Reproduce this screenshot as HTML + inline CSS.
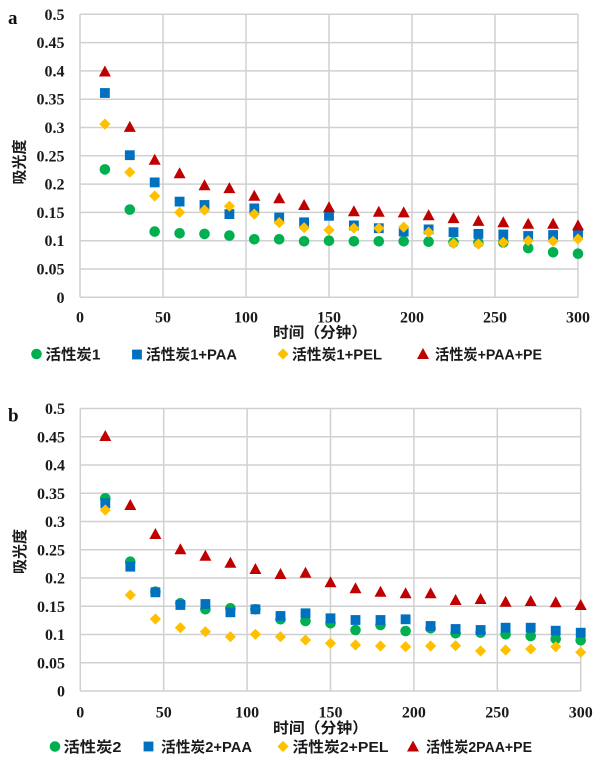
<!DOCTYPE html>
<html><head><meta charset="utf-8"><style>
html,body{margin:0;padding:0;background:#fff;}
svg{display:block;}
.tk{font-family:"Liberation Serif",serif;font-weight:bold;font-size:16px;fill:#1a1a1a;}
.lb{font-family:"Liberation Serif",serif;font-weight:bold;font-size:19px;fill:#111;}
.cj{font-family:"Liberation Sans","Noto Sans CJK SC",sans-serif;font-weight:bold;font-size:15px;fill:#1a1a1a;}
</style></head><body>
<svg width="600" height="766" viewBox="0 0 600 766" xmlns="http://www.w3.org/2000/svg">
<defs>
<circle id="c" r="5.3" fill="#00B050"/>
<rect id="s" x="-4.9" y="-4.9" width="9.8" height="9.8" fill="#0070C0"/>
<polygon id="d" points="0,-5.6 5.6,0 0,5.6 -5.6,0" fill="#FFC000"/>
<polygon id="t" points="0,-6 6,5 -6,5" fill="#C00000"/>
</defs>
<rect width="600" height="766" fill="#fff"/>

<!-- ===== Chart a ===== -->
<text class="lb" x="8" y="24">a</text>
<g stroke="#d0d0d0" stroke-width="1.5" fill="none">
<line x1="80" y1="14.3" x2="80" y2="297.3"/><line x1="163" y1="14.3" x2="163" y2="297.3"/>
<line x1="246" y1="14.3" x2="246" y2="297.3"/><line x1="329" y1="14.3" x2="329" y2="297.3"/>
<line x1="412" y1="14.3" x2="412" y2="297.3"/><line x1="495" y1="14.3" x2="495" y2="297.3"/>
<line x1="578" y1="14.3" x2="578" y2="297.3"/>
<line x1="80" y1="297.3" x2="578" y2="297.3"/><line x1="80" y1="269" x2="578" y2="269"/>
<line x1="80" y1="240.7" x2="578" y2="240.7"/><line x1="80" y1="212.4" x2="578" y2="212.4"/>
<line x1="80" y1="184.1" x2="578" y2="184.1"/><line x1="80" y1="155.8" x2="578" y2="155.8"/>
<line x1="80" y1="127.5" x2="578" y2="127.5"/><line x1="80" y1="99.2" x2="578" y2="99.2"/>
<line x1="80" y1="70.9" x2="578" y2="70.9"/><line x1="80" y1="42.6" x2="578" y2="42.6"/>
<line x1="80" y1="14.3" x2="578" y2="14.3"/>
</g>
<g class="tk" text-anchor="end">
<text x="64.5" y="302.8">0</text><text x="64.5" y="274.5">0.05</text><text x="64.5" y="246.2">0.1</text>
<text x="64.5" y="217.9">0.15</text><text x="64.5" y="189.6">0.2</text><text x="64.5" y="161.3">0.25</text>
<text x="64.5" y="133">0.3</text><text x="64.5" y="104.7">0.35</text><text x="64.5" y="76.4">0.4</text>
<text x="64.5" y="48.1">0.45</text><text x="64.5" y="19.8">0.5</text>
</g>
<g class="tk" text-anchor="middle">
<text x="80" y="322.7">0</text><text x="163" y="322.7">50</text><text x="246" y="322.7">100</text>
<text x="329" y="322.7">150</text><text x="412" y="322.7">200</text><text x="495" y="322.7">250</text>
<text x="578" y="322.7">300</text>
</g>
<text class="cj" x="273" y="337.5" textLength="94" lengthAdjust="spacingAndGlyphs">时间（分钟）</text>
<text class="cj" transform="translate(24.5,162) rotate(-90)" text-anchor="middle">吸光度</text>

<g>
<use href="#c" x="104.9" y="169.4"/><use href="#c" x="129.8" y="209.6"/><use href="#c" x="154.7" y="231.6"/><use href="#c" x="179.6" y="233.3"/><use href="#c" x="204.5" y="233.9"/><use href="#c" x="229.4" y="235.6"/><use href="#c" x="254.3" y="239.3"/><use href="#c" x="279.2" y="239.3"/><use href="#c" x="304.1" y="241.3"/><use href="#c" x="329" y="240.7"/><use href="#c" x="353.9" y="241.3"/><use href="#c" x="378.8" y="241.3"/><use href="#c" x="403.7" y="241.3"/><use href="#c" x="428.6" y="241.7"/><use href="#c" x="453.5" y="242.4"/><use href="#c" x="478.4" y="242.7"/><use href="#c" x="503.3" y="242.4"/><use href="#c" x="528.2" y="248.1"/><use href="#c" x="553.1" y="252.3"/><use href="#c" x="578" y="253.7"/>
</g>
<g>
<use href="#s" x="104.9" y="93"/><use href="#s" x="129.8" y="155.2"/><use href="#s" x="154.7" y="182.4"/><use href="#s" x="179.6" y="201.6"/><use href="#s" x="204.5" y="205"/><use href="#s" x="229.4" y="214.1"/><use href="#s" x="254.3" y="208.4"/><use href="#s" x="279.2" y="217.5"/><use href="#s" x="304.1" y="222.3"/><use href="#s" x="329" y="215.8"/><use href="#s" x="353.9" y="225.4"/><use href="#s" x="378.8" y="228.2"/><use href="#s" x="403.7" y="231.6"/><use href="#s" x="428.6" y="229.4"/><use href="#s" x="453.5" y="232.2"/><use href="#s" x="478.4" y="233.9"/><use href="#s" x="503.3" y="234.5"/><use href="#s" x="528.2" y="236"/><use href="#s" x="553.1" y="235"/><use href="#s" x="578" y="233.3"/>
</g>
<g>
<use href="#d" x="104.9" y="124.1"/><use href="#d" x="129.8" y="172.2"/><use href="#d" x="154.7" y="196"/><use href="#d" x="179.6" y="212.4"/><use href="#d" x="204.5" y="210.1"/><use href="#d" x="229.4" y="206.2"/><use href="#d" x="254.3" y="214.1"/><use href="#d" x="279.2" y="222.6"/><use href="#d" x="304.1" y="227.7"/><use href="#d" x="329" y="230"/><use href="#d" x="353.9" y="228.2"/><use href="#d" x="378.8" y="228.2"/><use href="#d" x="403.7" y="227.1"/><use href="#d" x="428.6" y="232.2"/><use href="#d" x="453.5" y="243.5"/><use href="#d" x="478.4" y="244.1"/><use href="#d" x="503.3" y="242.4"/><use href="#d" x="528.2" y="240.7"/><use href="#d" x="553.1" y="241.3"/><use href="#d" x="578" y="239"/>
</g>
<g>
<use href="#t" x="104.9" y="71.5"/><use href="#t" x="129.8" y="126.9"/><use href="#t" x="154.7" y="159.8"/><use href="#t" x="179.6" y="173.3"/><use href="#t" x="204.5" y="185.2"/><use href="#t" x="229.4" y="188.1"/><use href="#t" x="254.3" y="195.7"/><use href="#t" x="279.2" y="198.2"/><use href="#t" x="304.1" y="205"/><use href="#t" x="329" y="207.3"/><use href="#t" x="353.9" y="211.3"/><use href="#t" x="378.8" y="211.8"/><use href="#t" x="403.7" y="212.4"/><use href="#t" x="428.6" y="215.2"/><use href="#t" x="453.5" y="218.1"/><use href="#t" x="478.4" y="220.9"/><use href="#t" x="503.3" y="222.3"/><use href="#t" x="528.2" y="223.7"/><use href="#t" x="553.1" y="223.7"/><use href="#t" x="578" y="225.4"/>
</g>

<!-- legend a -->
<use href="#c" x="36.5" y="354"/>
<text class="cj" x="45.5" y="359.5" textLength="55" lengthAdjust="spacingAndGlyphs">活性炭1</text>
<use href="#s" x="137" y="354.5"/>
<text class="cj" x="146" y="359.5" textLength="91" lengthAdjust="spacingAndGlyphs">活性炭1+PAA</text>
<use href="#d" x="283" y="354"/>
<text class="cj" x="292" y="359.5" textLength="90" lengthAdjust="spacingAndGlyphs">活性炭1+PEL</text>
<use href="#t" x="423" y="354"/>
<text class="cj" x="435" y="359.5" textLength="107" lengthAdjust="spacingAndGlyphs">活性炭+PAA+PE</text>

<!-- ===== Chart b ===== -->
<text class="lb" x="8" y="421.7">b</text>
<g stroke="#d0d0d0" stroke-width="1.5" fill="none">
<line x1="80.3" y1="408.5" x2="80.3" y2="691"/><line x1="163.7" y1="408.5" x2="163.7" y2="691"/>
<line x1="247.1" y1="408.5" x2="247.1" y2="691"/><line x1="330.5" y1="408.5" x2="330.5" y2="691"/>
<line x1="413.9" y1="408.5" x2="413.9" y2="691"/><line x1="497.3" y1="408.5" x2="497.3" y2="691"/>
<line x1="580.7" y1="408.5" x2="580.7" y2="691"/>
<line x1="80.3" y1="691" x2="580.7" y2="691"/><line x1="80.3" y1="662.75" x2="580.7" y2="662.75"/>
<line x1="80.3" y1="634.5" x2="580.7" y2="634.5"/><line x1="80.3" y1="606.25" x2="580.7" y2="606.25"/>
<line x1="80.3" y1="578" x2="580.7" y2="578"/><line x1="80.3" y1="549.75" x2="580.7" y2="549.75"/>
<line x1="80.3" y1="521.5" x2="580.7" y2="521.5"/><line x1="80.3" y1="493.25" x2="580.7" y2="493.25"/>
<line x1="80.3" y1="465" x2="580.7" y2="465"/><line x1="80.3" y1="436.75" x2="580.7" y2="436.75"/>
<line x1="80.3" y1="408.5" x2="580.7" y2="408.5"/>
</g>
<g class="tk" text-anchor="end">
<text x="65" y="696.5">0</text><text x="65" y="668.25">0.05</text><text x="65" y="640">0.1</text>
<text x="65" y="611.75">0.15</text><text x="65" y="583.5">0.2</text><text x="65" y="555.25">0.25</text>
<text x="65" y="527">0.3</text><text x="65" y="498.75">0.35</text><text x="65" y="470.5">0.4</text>
<text x="65" y="442.25">0.45</text><text x="65" y="414">0.5</text>
</g>
<g class="tk" text-anchor="middle">
<text x="80.3" y="717.5">0</text><text x="163.7" y="717.5">50</text><text x="247.1" y="717.5">100</text>
<text x="330.5" y="717.5">150</text><text x="413.9" y="717.5">200</text><text x="497.3" y="717.5">250</text>
<text x="580.7" y="717.5">300</text>
</g>
<text class="cj" x="273" y="733" textLength="95" lengthAdjust="spacingAndGlyphs">时间（分钟）</text>
<text class="cj" transform="translate(25,551.5) rotate(-90)" text-anchor="middle">吸光度</text>

<g>
<use href="#c" x="105.3" y="498.3"/><use href="#c" x="130.3" y="561.7"/><use href="#c" x="155.4" y="591.7"/><use href="#c" x="180.4" y="603.3"/><use href="#c" x="205.4" y="609.3"/><use href="#c" x="230.4" y="608.3"/><use href="#c" x="255.4" y="609.3"/><use href="#c" x="280.5" y="619.3"/><use href="#c" x="305.5" y="621"/><use href="#c" x="330.5" y="623.3"/><use href="#c" x="355.5" y="630"/><use href="#c" x="380.5" y="625"/><use href="#c" x="405.6" y="631"/><use href="#c" x="430.6" y="628.3"/><use href="#c" x="455.6" y="633.3"/><use href="#c" x="480.6" y="632.7"/><use href="#c" x="505.6" y="634.3"/><use href="#c" x="530.7" y="636"/><use href="#c" x="555.7" y="639"/><use href="#c" x="580.7" y="640.3"/>
</g>
<g>
<use href="#s" x="105.3" y="503.3"/><use href="#s" x="130.3" y="566.7"/><use href="#s" x="155.4" y="592.3"/><use href="#s" x="180.4" y="605"/><use href="#s" x="205.4" y="604"/><use href="#s" x="230.4" y="612.3"/><use href="#s" x="255.4" y="609.3"/><use href="#s" x="280.5" y="616"/><use href="#s" x="305.5" y="613.3"/><use href="#s" x="330.5" y="618.3"/><use href="#s" x="355.5" y="620"/><use href="#s" x="380.5" y="620"/><use href="#s" x="405.6" y="619.3"/><use href="#s" x="430.6" y="626"/><use href="#s" x="455.6" y="629"/><use href="#s" x="480.6" y="630"/><use href="#s" x="505.6" y="627.7"/><use href="#s" x="530.7" y="627.7"/><use href="#s" x="555.7" y="630.7"/><use href="#s" x="580.7" y="632.7"/>
</g>
<g>
<use href="#d" x="105.3" y="510"/><use href="#d" x="130.3" y="595"/><use href="#d" x="155.4" y="619"/><use href="#d" x="180.4" y="627.7"/><use href="#d" x="205.4" y="631.7"/><use href="#d" x="230.4" y="636.7"/><use href="#d" x="255.4" y="634.3"/><use href="#d" x="280.5" y="636.7"/><use href="#d" x="305.5" y="640"/><use href="#d" x="330.5" y="643.3"/><use href="#d" x="355.5" y="645"/><use href="#d" x="380.5" y="646"/><use href="#d" x="405.6" y="646.7"/><use href="#d" x="430.6" y="646"/><use href="#d" x="455.6" y="645.7"/><use href="#d" x="480.6" y="651"/><use href="#d" x="505.6" y="650"/><use href="#d" x="530.7" y="649"/><use href="#d" x="555.7" y="646.7"/><use href="#d" x="580.7" y="652.3"/>
</g>
<g>
<use href="#t" x="105.3" y="436"/><use href="#t" x="130.3" y="505"/><use href="#t" x="155.4" y="534"/><use href="#t" x="180.4" y="549.3"/><use href="#t" x="205.4" y="555.7"/><use href="#t" x="230.4" y="562.7"/><use href="#t" x="255.4" y="569"/><use href="#t" x="280.5" y="574"/><use href="#t" x="305.5" y="572.7"/><use href="#t" x="330.5" y="582.3"/><use href="#t" x="355.5" y="588.3"/><use href="#t" x="380.5" y="591.7"/><use href="#t" x="405.6" y="593.3"/><use href="#t" x="430.6" y="593.3"/><use href="#t" x="455.6" y="600"/><use href="#t" x="480.6" y="599"/><use href="#t" x="505.6" y="601.7"/><use href="#t" x="530.7" y="601"/><use href="#t" x="555.7" y="602.3"/><use href="#t" x="580.7" y="605"/>
</g>

<!-- legend b -->
<use href="#c" x="55" y="746.5"/>
<text class="cj" x="63.5" y="752" textLength="58" lengthAdjust="spacingAndGlyphs">活性炭2</text>
<use href="#s" x="148.5" y="746.5"/>
<text class="cj" x="161" y="752" textLength="91" lengthAdjust="spacingAndGlyphs">活性炭2+PAA</text>
<use href="#d" x="283" y="746.5"/>
<text class="cj" x="292.5" y="752" textLength="96" lengthAdjust="spacingAndGlyphs">活性炭2+PEL</text>
<use href="#t" x="413" y="746.5"/>
<text class="cj" x="426" y="752" textLength="106" lengthAdjust="spacingAndGlyphs">活性炭2PAA+PE</text>
</svg>
</body></html>
